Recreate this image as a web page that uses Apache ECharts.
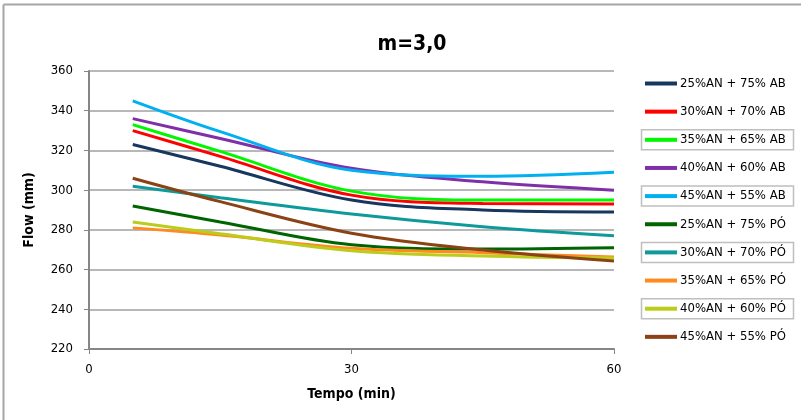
<!DOCTYPE html>
<html>
<head>
<meta charset="utf-8">
<script src="https://cdn.jsdelivr.net/npm/echarts@6/dist/echarts.min.js"></script>
<style>html,body{margin:0;padding:0;background:#fff}#c{width:801px;height:420px}</style>
</head>
<body>
<div id="c"></div>
<script>
var times = [5, 15, 30, 45, 60];
var names = ["25%AN + 75% AB","30%AN + 70% AB","35%AN + 65% AB","40%AN + 60% AB","45%AN + 55% AB","25%AN + 75% PÓ","30%AN + 70% PÓ","35%AN + 65% PÓ","40%AN + 60% PÓ","45%AN + 55% PÓ"];
var s25AB = [323, 312, 295, 290, 289];
var s30AB = [330, 317, 297.5, 293.3, 293];
var s35AB = [333, 319.5, 299.5, 295, 295];
var s40AB = [336, 326, 311, 304.2, 300];
var s45AB = [345, 329.5, 310, 307, 309];
var s25PO = [292, 284, 272.5, 270.3, 271];
var s30PO = [302, 296.2, 288, 281.6, 277];
var s35PO = [281, 277.4, 270.7, 268.5, 266.3];
var s40PO = [284, 278, 269.5, 266.8, 265.8];
var s45PO = [306, 294.2, 278.3, 269.8, 264.3];
var values = [s25AB, s30AB, s35AB, s40AB, s45AB, s25PO, s30PO, s35PO, s40PO, s45PO];
var colors = ["#17375e","#ff0000","#00f700","#7f30a8","#00b0f0","#006400","#0e9a9a","#ff8a1e","#bccc1a","#8b4214"];
var boxed = [2, 4, 6, 8];
var yTicks = [220, 240, 260, 280, 300, 320, 340, 360];
var xTicks = [0, 30, 60];

var FONT = '"Liberation Sans Narrow", "DejaVu Sans Condensed", "Liberation Sans", sans-serif';
var chart = echarts.init(document.getElementById('c'), null, {renderer: 'canvas'});

var series = names.map(function (n, i) {
  return {
    name: n, type: 'line', smooth: 0.35, symbol: 'none',
    data: times.map(function (t, j) { return [t, values[i][j]]; }),
    lineStyle: {color: colors[i], width: 3},
    itemStyle: {color: colors[i]}
  };
});

var legendTop = 77, legendStep = 28.15, itemH = 13;
var graphics = [
  {type: 'line', shape: {x1: 3.5, y1: 4.5, x2: 801, y2: 4.5}, style: {stroke: '#a6a6a6', lineWidth: 2}},
  {type: 'line', shape: {x1: 3.5, y1: 4.5, x2: 3.5, y2: 420}, style: {stroke: '#a6a6a6', lineWidth: 2}}
];
boxed.forEach(function (k) {
  var cy = legendTop + itemH / 2 + k * legendStep;
  graphics.push({type: 'rect', shape: {x: 641.5, y: cy - 10, width: 152, height: 20},
    style: {fill: 'none', stroke: '#bfbfbf', lineWidth: 1.5}, z: 100});
});

chart.setOption({
  animation: false,
  backgroundColor: '#fff',
  title: {text: 'm=3,0', left: 407, top: 29, textAlign: 'center',
    textStyle: {fontFamily: FONT, fontSize: 21, fontWeight: 'bold', color: '#000'}},
  grid: {left: 89, right: 187, top: 71, bottom: 71, containLabel: false},
  legend: {
    orient: 'vertical', left: 645, top: legendTop, padding: 0, itemWidth: 32, itemHeight: 4, itemGap: legendStep - itemH,
    icon: 'rect', data: names,
    textStyle: {fontFamily: FONT, fontSize: 13, color: '#000', padding: [0, 0, 0, -2], lineHeight: itemH}
  },
  xAxis: {
    type: 'value', min: 0, max: 60, interval: 30,
    name: 'Tempo (min)', nameLocation: 'middle', nameGap: 38,
    nameTextStyle: {fontFamily: FONT, fontSize: 14, fontWeight: 'bold', color: '#000'},
    axisLine: {show: true, lineStyle: {color: '#868686', width: 2}},
    axisTick: {show: true, length: 5, lineStyle: {color: '#868686'}},
    axisLabel: {fontFamily: FONT, fontSize: 13, color: '#000', margin: 14},
    splitLine: {show: false}
  },
  yAxis: {
    type: 'value', min: 220, max: 360, interval: 20,
    name: 'Flow (mm)', nameLocation: 'middle', nameGap: 53, nameRotate: 90,
    nameTextStyle: {fontFamily: FONT, fontSize: 14, fontWeight: 'bold', color: '#000'},
    axisLine: {show: true, lineStyle: {color: '#868686', width: 2}},
    axisTick: {show: true, length: 5, lineStyle: {color: '#868686'}},
    axisLabel: {fontFamily: FONT, fontSize: 13, color: '#000', margin: 16},
    splitLine: {show: true, lineStyle: {color: '#a0a0a0', width: 1.5}}
  },
  graphic: graphics,
  series: series
});
</script>
</body>
</html>
